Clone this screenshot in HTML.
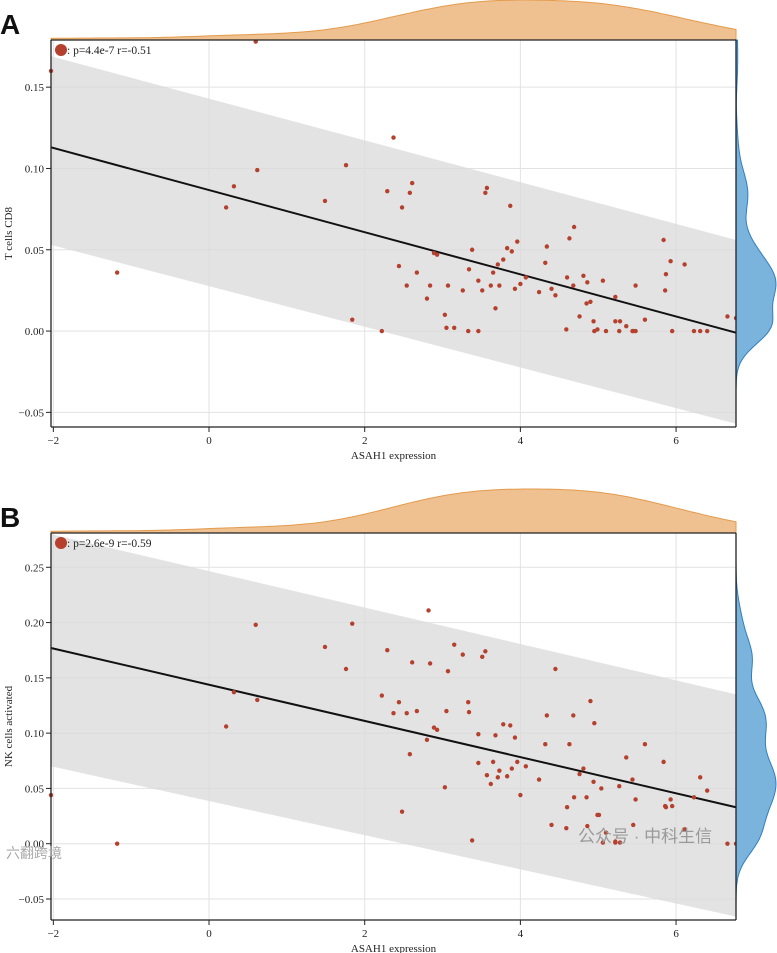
<!DOCTYPE html>
<html><head><meta charset="utf-8">
<style>
body{margin:0;background:#fff;width:777px;height:953px;overflow:hidden}
svg{display:block}
text{font-family:"Liberation Serif",serif;fill:#222}
</style></head>
<body>
<svg id="chart" width="777" height="953" xmlns="http://www.w3.org/2000/svg"></svg>
<script>
const xA=[-2.03,-1.18,0.22,0.32,0.60,0.62,1.49,1.76,1.84,2.22,2.29,2.37,2.44,2.48,2.54,2.58,2.61,2.67,2.80,2.84,2.89,2.93,3.03,3.05,3.07,3.15,3.26,3.33,3.34,3.38,3.46,3.46,3.51,3.55,3.57,3.62,3.65,3.68,3.71,3.73,3.78,3.83,3.87,3.89,3.93,3.96,4.00,4.07,4.24,4.32,4.34,4.40,4.45,4.59,4.60,4.63,4.68,4.69,4.76,4.81,4.85,4.86,4.90,4.94,4.95,4.99,5.06,5.10,5.22,5.22,5.27,5.28,5.36,5.44,5.45,5.48,5.48,5.60,5.84,5.86,5.87,5.93,5.95,6.11,6.23,6.31,6.40,6.66,6.77];
const yA=[0.160,0.036,0.076,0.089,0.178,0.099,0.080,0.102,0.007,0.000,0.086,0.119,0.040,0.076,0.028,0.085,0.091,0.036,0.020,0.028,0.048,0.047,0.010,0.002,0.028,0.002,0.025,0.000,0.038,0.050,0.000,0.031,0.025,0.085,0.088,0.028,0.036,0.014,0.041,0.028,0.044,0.051,0.077,0.049,0.026,0.055,0.029,0.033,0.024,0.042,0.052,0.026,0.022,0.001,0.033,0.057,0.028,0.064,0.009,0.034,0.017,0.030,0.018,0.006,0.000,0.001,0.031,0.000,0.006,0.021,0.000,0.006,0.003,0.000,0.000,0.000,0.028,0.007,0.056,0.025,0.035,0.043,0.000,0.041,0.000,0.000,0.000,0.009,0.008];
const xB=[-2.03,-1.18,0.22,0.32,0.60,0.62,1.49,1.76,1.84,2.22,2.29,2.37,2.44,2.48,2.54,2.58,2.61,2.67,2.80,2.84,2.89,2.93,3.03,3.05,3.07,3.15,3.26,3.33,3.34,3.38,3.46,3.46,3.51,3.55,3.57,3.62,3.65,3.68,3.71,3.73,3.78,3.83,3.87,3.89,3.93,3.96,4.00,4.07,4.24,4.32,4.34,4.40,4.45,4.59,4.60,4.63,4.68,4.69,4.76,4.81,4.85,4.86,4.90,4.94,4.95,4.99,5.01,5.04,5.06,5.10,5.22,5.22,5.27,5.28,5.36,5.44,5.45,5.48,5.60,5.84,5.86,5.87,5.93,5.95,6.11,6.23,6.31,6.40,6.66,6.77,2.82];
const yB=[0.044,0.000,0.106,0.137,0.198,0.130,0.178,0.158,0.199,0.134,0.175,0.118,0.128,0.029,0.118,0.081,0.164,0.120,0.094,0.163,0.105,0.103,0.051,0.120,0.156,0.180,0.171,0.128,0.119,0.003,0.099,0.073,0.169,0.174,0.062,0.054,0.074,0.098,0.060,0.066,0.108,0.061,0.107,0.068,0.096,0.074,0.044,0.070,0.058,0.090,0.116,0.017,0.158,0.014,0.033,0.090,0.116,0.042,0.063,0.068,0.042,0.016,0.129,0.056,0.109,0.026,0.026,0.050,0.001,0.010,0.001,0.002,0.052,0.001,0.078,0.058,0.017,0.040,0.090,0.074,0.034,0.033,0.040,0.034,0.013,0.042,0.060,0.048,0.000,0.000,0.211];
const xTicks=[-2,0,2,4,6];
const yTicksA=[-0.05,0,0.05,0.10,0.15];
const yTicksB=[-0.05,0,0.05,0.10,0.15,0.20,0.25];
const fitA=[0.113,-0.001], bandTopA=[0.169,0.056], bandBotA=[0.053,-0.057];
const fitB=[0.177,0.033], bandTopB=[0.280,0.135], bandBotB=[0.070,-0.066];

const NS="http://www.w3.org/2000/svg";
const svg=document.getElementById('chart');
function mk(tag,attrs,parent,name,inter){const e=document.createElementNS(NS,tag);for(const k in attrs)e.setAttribute(k,attrs[k]);


(parent||svg).appendChild(e);return e;}
function fmt(v){return v<0?'\u2212'+Math.abs(v).toFixed(2):(v===0?'0.00':v.toFixed(2));}

function panel(o){
 const {L,R,T,B,x0,x1,y0,y1,xs,ys,fit,bt,bb,yticks,label,ylab,stat,pfx}=o;
 const g=mk('g',{},svg,pfx+'-panel',false);
 const X=v=>L+(v-x0)/(x1-x0)*(R-L);
 const Y=v=>B-(v-y0)/(y1-y0)*(B-T);
 xTicks.forEach(t=>{mk('line',{x1:X(t),x2:X(t),y1:T,y2:B,stroke:'#e2e2e2','stroke-width':1},g,pfx+'-x-grid',false);});
 yticks.forEach(t=>{mk('line',{x1:L,x2:R,y1:Y(t),y2:Y(t),stroke:'#e2e2e2','stroke-width':1},g,pfx+'-y-grid',false);});
 mk('polygon',{points:`${X(x0)},${Y(bt[0])} ${X(x1)},${Y(bt[1])} ${X(x1)},${Y(bb[1])} ${X(x0)},${Y(bb[0])}`,fill:'#d9d9d9','fill-opacity':0.75},g,pfx+'-prediction-band',false);
 mk('line',{x1:X(x0),y1:Y(fit[0]),x2:X(x1),y2:Y(fit[1]),stroke:'#111','stroke-width':2},g,pfx+'-regression-line',false);
 xs.forEach((v,i)=>{mk('circle',{cx:X(v),cy:Y(ys[i]),r:2.2,fill:'#b5402d'},g,pfx+'-point',false);});
 const bw=0.75,n=120;let pts=[],mx=0;
 for(let i=0;i<=n;i++){const xv=x0+(x1-x0)*i/n;let d=0;xs.forEach(a=>{d+=Math.exp(-0.5*((xv-a)/bw)**2)});pts.push([xv,d]);mx=Math.max(mx,d);}
 let p=`M${L},${T} `+pts.map(q=>`L${X(q[0]).toFixed(1)},${(T-q[1]/mx*(o.dh)).toFixed(1)}`).join(' ')+` L${R},${T} Z`;
 mk('path',{d:p,fill:'#f0c190',stroke:'#e39a4c','stroke-width':1},g,pfx+'-x-density',false);
 const bwy=(y1-y0)*0.045;let py=[],my=0;
 for(let i=0;i<=n;i++){const yv=y0+(y1-y0)*i/n;let d=0;ys.forEach(a=>{d+=Math.exp(-0.5*((yv-a)/bwy)**2)});py.push([yv,d]);my=Math.max(my,d);}
 let p2=`M${R},${B} `+py.map(q=>`L${(R+q[1]/my*40).toFixed(1)},${Y(q[0]).toFixed(1)}`).join(' ')+` L${R},${T} Z`;
 mk('path',{d:p2,fill:'#7ab3dc',stroke:'#2f7fc1','stroke-width':1},g,pfx+'-y-density',false);
 mk('line',{x1:L,x2:R,y1:T,y2:T,stroke:'#222','stroke-width':1.3},g,pfx+'-top-border',false);
 mk('line',{x1:R,x2:R,y1:T,y2:B,stroke:'#222','stroke-width':1.3},g,pfx+'-right-border',false);
 mk('line',{x1:L,x2:L,y1:T,y2:B,stroke:'#222','stroke-width':1.3},g,pfx+'-y-axis',false);
 mk('line',{x1:L,x2:R,y1:B,y2:B,stroke:'#222','stroke-width':1.3},g,pfx+'-x-axis',false);
 xTicks.forEach(t=>{mk('line',{x1:X(t),x2:X(t),y1:B,y2:B+5,stroke:'#222'},g,pfx+'-x-tick',false);
  const tx=mk('text',{x:X(t),y:B+17,'text-anchor':'middle','font-size':11},g,pfx+'-x-tick-label',false);tx.textContent=t<0?'\u2212'+Math.abs(t):t;});
 yticks.forEach(t=>{mk('line',{x1:L-5,x2:L,y1:Y(t),y2:Y(t),stroke:'#222'},g,pfx+'-y-tick',false);
  const tx=mk('text',{x:L-7,y:Y(t)+4,'text-anchor':'end','font-size':11},g,pfx+'-y-tick-label',false);tx.textContent=fmt(t);});
 const xt=mk('text',{x:(L+R)/2,y:B+32,'text-anchor':'middle','font-size':11},g,pfx+'-x-axis-title',false);xt.textContent='ASAH1 expression';
 const yt=mk('text',{x:12,y:(T+B)/2,'text-anchor':'middle','font-size':11,transform:`rotate(-90 12 ${(T+B)/2})`},g,pfx+'-y-axis-title',false);yt.textContent=ylab;
 mk('circle',{cx:61,cy:T+10,r:6,fill:'#b5402d'},g,pfx+'-legend-marker',false);
 const lt=mk('text',{x:67,y:T+14,'font-size':11.5},g,pfx+'-legend-text',false);lt.textContent=stat;
 const pl=mk('text',{x:0,y:T-6,'font-size':28,'font-weight':'bold',style:'font-family:"Liberation Sans",sans-serif;fill:#111'},g,pfx+'-panel-label',false);pl.textContent=label;
}
panel({L:51,R:736,T:40,B:427,x0:-2.03,x1:6.77,y0:-0.059,y1:0.179,xs:xA,ys:yA,fit:fitA,bt:bandTopA,bb:bandBotA,yticks:yTicksA,label:'A',ylab:'T cells CD8',stat:': p=4.4e-7 r=-0.51',pfx:'a',dh:40});
panel({L:51,R:736,T:533,B:920,x0:-2.03,x1:6.77,y0:-0.069,y1:0.281,xs:xB,ys:yB,fit:fitB,bt:bandTopB,bb:bandBotB,yticks:yTicksB,label:'B',ylab:'NK cells activated',stat:': p=2.6e-9 r=-0.59',pfx:'b',dh:44});
const wm=mk('text',{x:578,y:842,'font-size':17,style:'font-family:"Liberation Sans","Noto Sans CJK SC",sans-serif;fill:#999'},svg,'watermark',false);wm.textContent='公众号 · 中科生信';
const wm2=mk('text',{x:6,y:858,'font-size':14,style:'font-family:"Liberation Sans","Noto Sans CJK SC",sans-serif;fill:#aaa'},svg,'watermark-left',false);wm2.textContent='六翻跨境';
</script>
</body></html>
